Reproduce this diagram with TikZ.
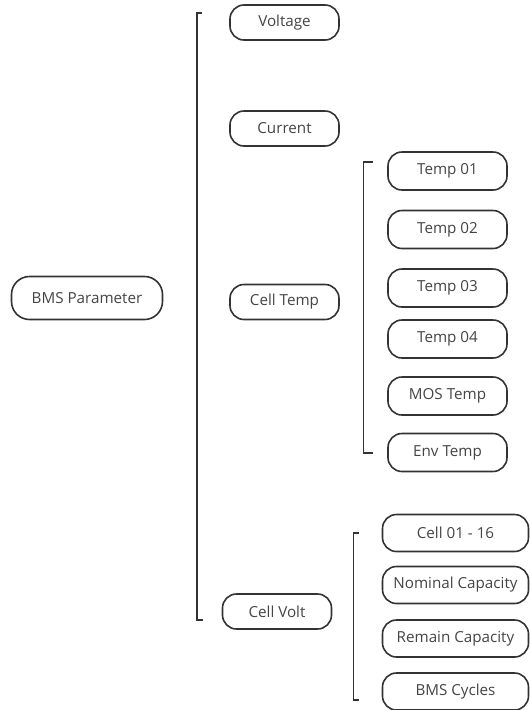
\documentclass[tikz,border=0pt]{standalone}
\usepackage{fontspec}
\setmainfont{Open Sans}
\definecolor{boxline}{HTML}{333333}
\definecolor{boxtext}{HTML}{444444}
\tikzset{
  item/.style={draw=boxline, line width=1.6pt, rounded corners=14pt,
    minimum height=35pt, minimum width=109pt, inner sep=0pt,
    text=boxtext, font=\fontsize{15.2}{17}\selectfont},
  brace/.style={draw=boxline, line width=1.8pt},
}
\begin{document}
\begin{tikzpicture}[x=1pt,y=-1pt]
            \useasboundingbox (0,0) rectangle (530,710);

            \node[item, minimum width=151pt, minimum height=43pt, rounded corners=18pt] (bms) at (87,298) {BMS Parameter};

            \node[item] (voltage) at (284.5,22.5) {Voltage};
            \node[item] (current) at (284.5,128.5) {Current};
            \node[item] (celltemp) at (284.5,302) {Cell Temp};
            \node[item] (cellvolt) at (277,611.5) {Cell Volt};

            \foreach \name/\lbl/\y in {t1/Temp 01/171, t2/Temp 02/229.5, t3/Temp 03/288,
                t4/Temp 04/339, mos/MOS Temp/396, env/Env Temp/452.5}
                \node[item, minimum width=119pt, minimum height=38pt] (\name) at (447.5,\y) {\lbl};

            \foreach \name/\lbl/\y in {cells/Cell 01 - 16/533, nominal/Nominal Capacity/585,
                remain/Remain Capacity/638.5, cycles/BMS Cycles/691.5}
                \node[item, minimum width=146pt, minimum height=37pt] (\name) at (455.5,\y) {\lbl};

            % brackets
            \coordinate (maintop) at (197,13);
            \coordinate (mainbot) at (197,620);
            \draw[brace] ([xshift=5pt]maintop) -- (maintop) -- (mainbot) -- ([xshift=6pt]mainbot);

            \coordinate (temptop) at (363.5,162);
            \coordinate (tempbot) at (363.5,453);
            \draw[brace] ([xshift=9pt]temptop) -- (temptop) -- (tempbot) -- ([xshift=9pt]tempbot);

            \coordinate (volttop) at (353.5,533);
            \coordinate (voltbot) at (353.5,700);
            \draw[brace] ([xshift=5pt]volttop) -- (volttop) -- (voltbot) -- ([xshift=5pt]voltbot);
\end{tikzpicture}
\end{document}
